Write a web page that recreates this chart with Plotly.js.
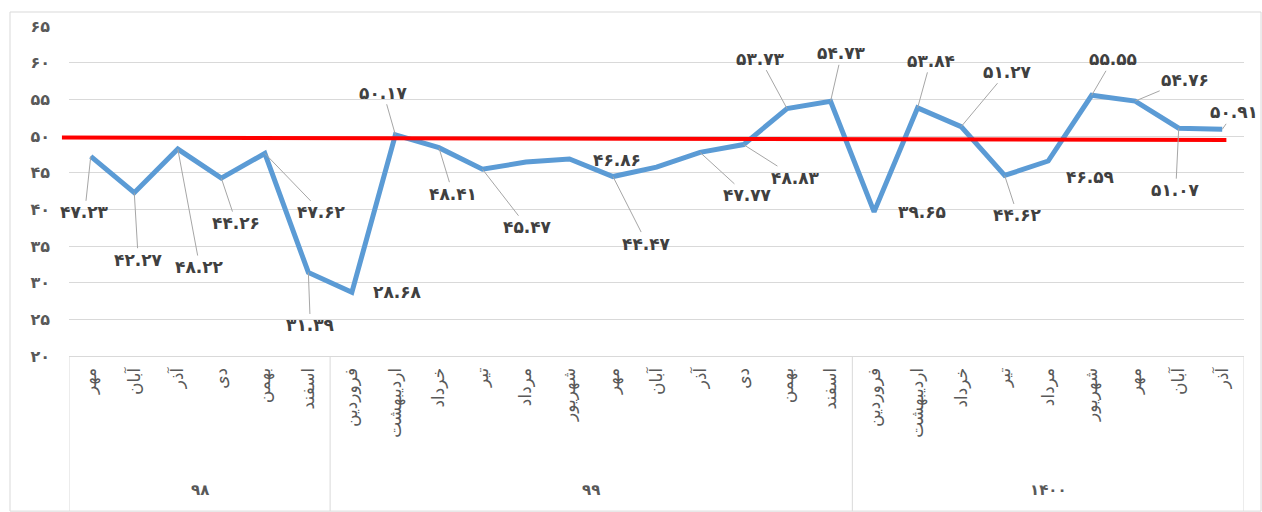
<!DOCTYPE html>
<html><head><meta charset="utf-8">
<script src="https://cdn.plot.ly/plotly-3.0.1.min.js"></script>
<style>html,body{margin:0;padding:0;background:#fff}#c{width:1262px;height:512px}</style>
</head><body><div id="c"></div>
<script>
// ---- data ----
const years = ["۹۸","۹۸","۹۸","۹۸","۹۸","۹۸",
  "۹۹","۹۹","۹۹","۹۹","۹۹","۹۹","۹۹","۹۹","۹۹","۹۹","۹۹","۹۹",
  "۱۴۰۰","۱۴۰۰","۱۴۰۰","۱۴۰۰","۱۴۰۰","۱۴۰۰","۱۴۰۰","۱۴۰۰","۱۴۰۰"];
const months = ["مهر","آبان","آذر","دی","بهمن","اسفند",
  "فروردین","اردیبهشت","خرداد","تیر","مرداد","شهریور","مهر","آبان","آذر","دی","بهمن","اسفند",
  "فروردین","اردیبهشت","خرداد","تیر","مرداد","شهریور","مهر","آبان","آذر"];
const values = [47.23,42.27,48.22,44.26,47.62,31.39,
  28.68,50.17,48.41,45.47,46.45,46.86,44.47,45.75,47.77,48.83,53.73,54.73,
  39.65,53.84,51.27,44.62,46.59,55.55,54.76,51.07,50.91];
const showValue = [1,1,1,1,1,1, 1,1,1,1,0,1,1,0,1,1,1,1, 1,1,1,1,1,1,1,1,1];
const yTickVals = [20,25,30,35,40,45,50,55,60,65];
const yTickText = ["۲۰","۲۵","۳۰","۳۵","۴۰","۴۵","۵۰","۵۵","۶۰","۶۵"];
const threshold = [49.8, 49.45];

// ---- label placement (style only, pixels) ----
const labelDx = [-6,4,22,15,57,2, 46,-12,14,45,0,48,34,0,47,52,-27,11, 48,13,46,13,42,21,50,-3,12];
const labelDy = [56,67,118,45,59,53, 0,-42,46,58,0,1,67,0,43,33,-50,-48, 0,-47,-55,40,16,-36,-21,62,-17];
const leader  = [1,1,1,1,1,1, 0,1,1,1,0,0,1,0,1,1,1,1, 0,1,1,1,0,1,1,1,1];

const fa = s => String(s).replace(/[0-9]/g, d => "۰۱۲۳۴۵۶۷۸۹"[+d]);
const idx = months.map((_, i) => i);

const annotations = [];
values.forEach((v, i) => {
  if (!showValue[i]) return;
  const a = {
    x: idx[i], y: v, xref: 'x', yref: 'y',
    text: fa(v.toFixed(2)),
    font: {family: 'DejaVu Sans', size: 17, color: '#404040', weight: 'bold'},
  };
  if (leader[i]) {
    Object.assign(a, {showarrow: true, arrowhead: 0, arrowwidth: 1, arrowcolor: '#A6A6A6',
      ax: labelDx[i], ay: labelDy[i], standoff: 0, startstandoff: 0});
  } else {
    Object.assign(a, {showarrow: false, xshift: labelDx[i], yshift: -labelDy[i]});
  }
  annotations.push(a);
});

// year groups (from the years array)
const groups = [];
years.forEach((y, i) => {
  if (!groups.length || groups[groups.length - 1].name !== y) groups.push({name: y, start: i, end: i});
  else groups[groups.length - 1].end = i;
});
const shapes = [
  {type: 'rect', xref: 'paper', yref: 'paper', x0: -0.0502, x1: 1.0145, y0: -0.47, y1: 1.0424,
   line: {color: '#D9D9D9', width: 1}, fillcolor: 'rgba(0,0,0,0)', layer: 'below'}
];
groups.forEach((g, k) => {
  annotations.push({x: (g.start + g.end) / 2, xref: 'x', y: -0.406, yref: 'paper',
    text: g.name, showarrow: false, yanchor: 'middle',
    font: {family: 'DejaVu Sans', size: 15, color: '#595959', weight: 'bold'}});
  shapes.push({type: 'line', xref: 'x', yref: 'paper', x0: g.start - 0.5, x1: g.start - 0.5,
    y0: 0, y1: -0.47, line: {color: '#D9D9D9', width: 1}});
  if (k === groups.length - 1)
    shapes.push({type: 'line', xref: 'x', yref: 'paper', x0: g.end + 0.5, x1: g.end + 0.5,
      y0: 0, y1: -0.47, line: {color: '#D9D9D9', width: 1}});
});
shapes.push({type: 'line', xref: 'paper', yref: 'y', x0: -0.006, x1: 0.985, y0: threshold[0], y1: threshold[1],
  line: {color: '#FF0000', width: 4}});

const trace = {
  type: 'scatter', mode: 'lines', x: idx, y: values,
  line: {color: '#5B9BD5', width: 5}, hoverinfo: 'skip'
};

const layout = {
  width: 1262, height: 512,
  margin: {l: 69, r: 18, t: 26, b: 156},
  paper_bgcolor: '#fff', plot_bgcolor: '#fff',
  showlegend: false,
  font: {family: 'DejaVu Sans', color: '#595959'},
  xaxis: {
    range: [-0.5, months.length - 0.5],
    tickvals: idx, ticktext: months,
    tickangle: -90,
    tickfont: {family: 'DejaVu Sans', size: 17, color: '#595959'},
    showgrid: false, zeroline: false,
    showline: true, linecolor: '#D9D9D9', linewidth: 1,
    ticks: '', ticklabelstandoff: 4
  },
  yaxis: {
    range: [20, 65], tickvals: yTickVals, ticktext: yTickText,
    tickfont: {family: 'DejaVu Sans', size: 16, color: '#595959', weight: 'bold'},
    showgrid: true, gridcolor: '#D9D9D9', gridwidth: 1,
    zeroline: false, showline: false, ticklabelstandoff: 18
  },
  shapes: shapes,
  annotations: annotations
};

Plotly.newPlot('c', [trace], layout, {staticPlot: true});
</script></body></html>
